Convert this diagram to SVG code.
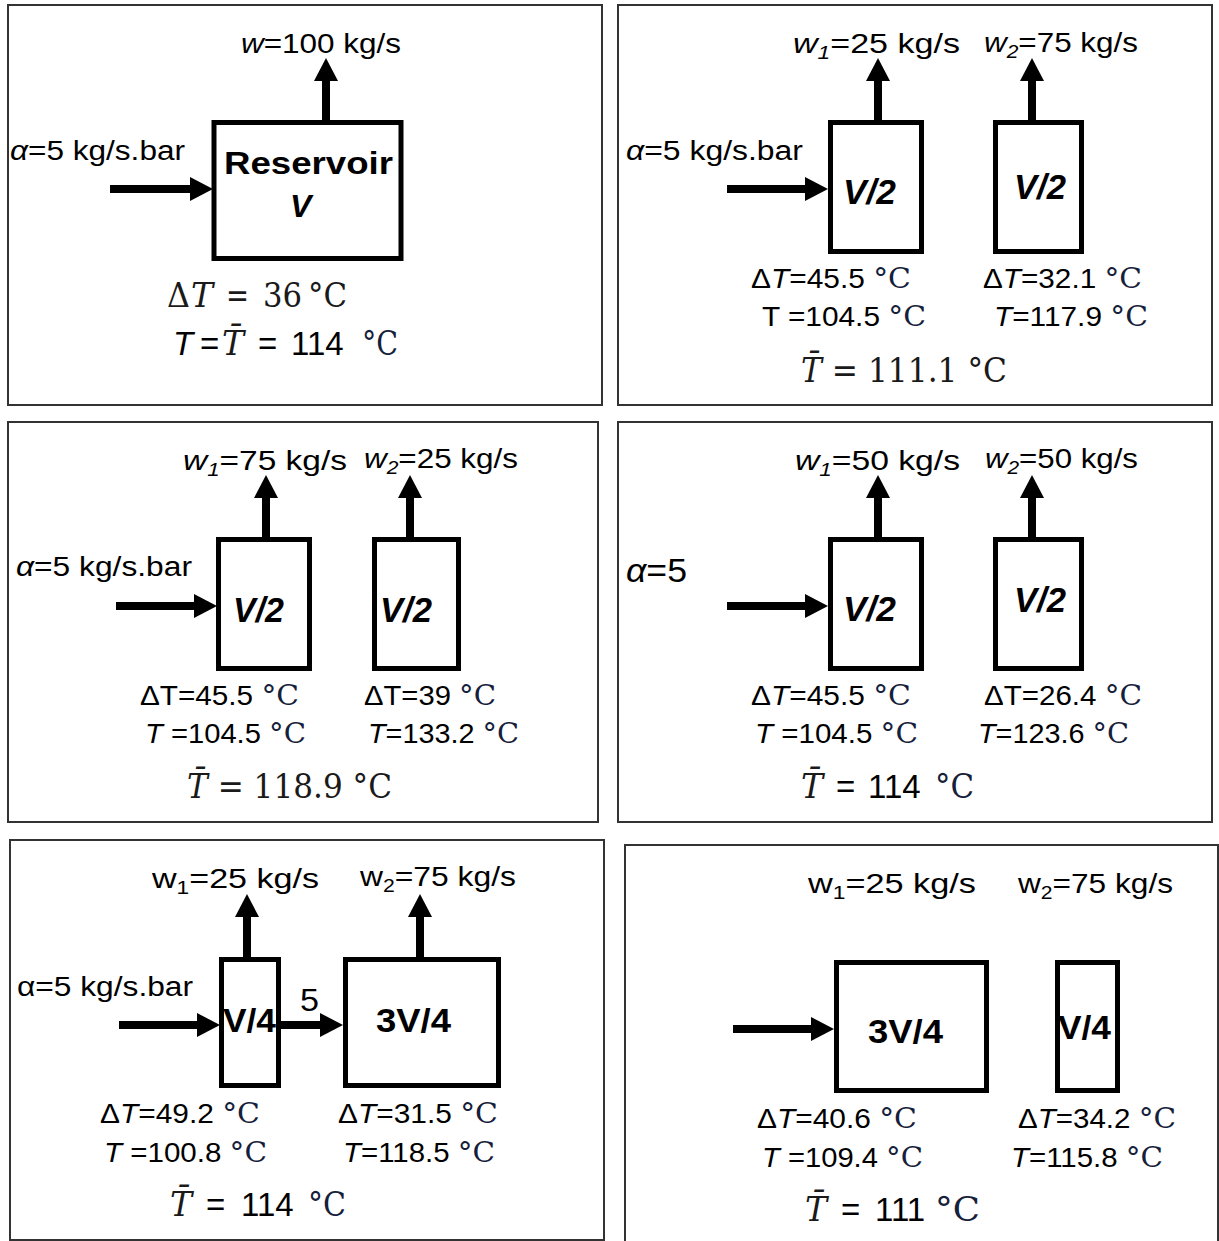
<svg xmlns="http://www.w3.org/2000/svg" width="1219" height="1241" viewBox="0 0 1219 1241">
<style>
.f{fill:none;stroke:#333;stroke-width:2}
.b{fill:#fff;stroke:#000;stroke-width:5}
.a{stroke:#000;stroke-width:8;fill:none;marker-end:url(#ah)}
.s{font-family:"Liberation Sans",Arial,sans-serif;font-size:27px;fill:#000}
.i{font-style:italic}
.sub{font-size:18px}
.v{font-family:"Liberation Sans",Arial,sans-serif;font-weight:bold;font-style:italic;font-size:35px;fill:#000}
.vb{font-family:"Liberation Sans",Arial,sans-serif;font-weight:bold;font-size:34px;fill:#000}
.c{font-family:"DejaVu Serif","Liberation Serif",serif;fill:#15203a}
.m{font-family:"DejaVu Serif","Liberation Serif",serif;font-size:33px;fill:#1a1a1a}
.big{font-size:33px}
</style>
<defs>
<marker id="ah" markerUnits="userSpaceOnUse" markerWidth="23" markerHeight="24" refX="0" refY="12" orient="auto" viewBox="0 0 23 24"><path d="M0,0 L23,12 L0,24 z" fill="#000"/></marker>
</defs>

<g id="frames">
<rect class="f" x="8" y="5" width="594" height="400"/>
<rect class="f" x="618" y="5" width="594" height="400"/>
<rect class="f" x="8" y="422" width="590" height="400"/>
<rect class="f" x="618" y="422" width="594" height="400"/>
<rect class="f" x="10" y="840" width="594" height="400"/>
<rect class="f" x="625" y="845" width="593" height="410"/>
</g>

<g id="connectors">
<line class="a" x1="326" y1="122" x2="326" y2="81"/>
<line class="a" x1="110" y1="189" x2="190" y2="189"/>
<line class="a" x1="878" y1="122" x2="878" y2="81"/>
<line class="a" x1="1032" y1="122" x2="1032" y2="81"/>
<line class="a" x1="727" y1="189" x2="805" y2="189"/>
<line class="a" x1="266" y1="539" x2="266" y2="498"/>
<line class="a" x1="410" y1="539" x2="410" y2="498"/>
<line class="a" x1="116" y1="606" x2="194" y2="606"/>
<line class="a" x1="878" y1="539" x2="878" y2="498"/>
<line class="a" x1="1032" y1="539" x2="1032" y2="498"/>
<line class="a" x1="727" y1="606" x2="805" y2="606"/>
<line class="a" x1="247" y1="959" x2="247" y2="917"/>
<line class="a" x1="420" y1="959" x2="420" y2="917"/>
<line class="a" x1="119" y1="1025" x2="197" y2="1025"/>
<line class="a" x1="281" y1="1025" x2="320" y2="1025"/>
<line class="a" x1="733" y1="1029" x2="811" y2="1029"/>
</g>

<g id="panel1">
<text class="s" x="241" y="53" textLength="160" lengthAdjust="spacingAndGlyphs"><tspan class="i">w</tspan>=100 kg/s</text>
<text class="s" x="10" y="160" textLength="175" lengthAdjust="spacingAndGlyphs"><tspan class="i">α</tspan>=5 kg/s.bar</text>
<g id="reservoir">
<rect class="b" x="214" y="122.5" width="187" height="136"/>
<text class="vb" x="224" y="174" style="font-size:31px" textLength="169" lengthAdjust="spacingAndGlyphs">Reservoir</text>
<text class="v" x="290" y="217" style="font-size:32px">V</text>
</g>
<text class="m" y="307" style="font-size:33px"><tspan x="167" textLength="23" lengthAdjust="spacingAndGlyphs">Δ</tspan><tspan x="191" font-style="italic">T</tspan><tspan x="226" textLength="23" lengthAdjust="spacingAndGlyphs">=</tspan><tspan x="263" textLength="39" lengthAdjust="spacingAndGlyphs">36</tspan><tspan x="308" textLength="39" lengthAdjust="spacingAndGlyphs">°C</tspan></text>
<text class="s big" y="355"><tspan x="173" class="i">T</tspan><tspan x="200">=</tspan><tspan x="222" class="m i">T&#x304;</tspan><tspan x="258">=</tspan><tspan x="291">114</tspan><tspan x="362" class="c" textLength="36" lengthAdjust="spacingAndGlyphs">°C</tspan></text>
</g>

<g id="panel2">
<text class="s" x="793" y="53" textLength="167" lengthAdjust="spacingAndGlyphs"><tspan class="i">w</tspan><tspan class="i sub" dy="6">1</tspan><tspan dy="-6">=25 kg/s</tspan></text>
<text class="s" x="984" y="52" textLength="154" lengthAdjust="spacingAndGlyphs"><tspan class="i">w</tspan><tspan class="i sub" dy="6">2</tspan><tspan dy="-6">=75 kg/s</tspan></text>
<text class="s" x="626" y="160" textLength="177" lengthAdjust="spacingAndGlyphs"><tspan class="i">α</tspan>=5 kg/s.bar</text>
<g id="p2-tank1">
<rect class="b" x="830.5" y="122.5" width="91" height="129"/>
<text class="v" x="843" y="204" textLength="53" lengthAdjust="spacingAndGlyphs">V/2</text>
</g>
<g id="p2-tank2">
<rect class="b" x="995.5" y="122.5" width="86" height="129"/>
<text class="v" x="1014" y="199" textLength="52" lengthAdjust="spacingAndGlyphs">V/2</text>
</g>
<text class="s" x="751" y="288" textLength="160" lengthAdjust="spacingAndGlyphs">Δ<tspan class="i">T</tspan>=45.5 <tspan class="c">°C</tspan></text>
<text class="s" x="762" y="326" textLength="164" lengthAdjust="spacingAndGlyphs">T =104.5 <tspan class="c">°C</tspan></text>
<text class="s" x="983" y="288" textLength="159" lengthAdjust="spacingAndGlyphs">Δ<tspan class="i">T</tspan>=32.1 <tspan class="c">°C</tspan></text>
<text class="s" x="994" y="326" textLength="154" lengthAdjust="spacingAndGlyphs"><tspan class="i">T</tspan>=117.9 <tspan class="c">°C</tspan></text>
<text class="m" x="801" y="382" textLength="206" lengthAdjust="spacingAndGlyphs"><tspan font-style="italic">T&#x304;</tspan> = 111.1 °C</text>
</g>

<g id="panel3">
<text class="s" x="183" y="470" textLength="164" lengthAdjust="spacingAndGlyphs"><tspan class="i">w</tspan><tspan class="i sub" dy="6">1</tspan><tspan dy="-6">=75 kg/s</tspan></text>
<text class="s" x="364" y="468" textLength="154" lengthAdjust="spacingAndGlyphs"><tspan class="i">w</tspan><tspan class="i sub" dy="6">2</tspan><tspan dy="-6">=25 kg/s</tspan></text>
<text class="s" x="16" y="576" textLength="176" lengthAdjust="spacingAndGlyphs"><tspan class="i">α</tspan>=5 kg/s.bar</text>
<g id="p3-tank1">
<rect class="b" x="218.5" y="539.5" width="91" height="129"/>
<text class="v" x="233" y="622" textLength="51" lengthAdjust="spacingAndGlyphs">V/2</text>
</g>
<g id="p3-tank2">
<rect class="b" x="374.5" y="539.5" width="84" height="129"/>
<text class="v" x="380" y="622" textLength="52" lengthAdjust="spacingAndGlyphs">V/2</text>
</g>
<text class="s" x="140" y="705" textLength="159" lengthAdjust="spacingAndGlyphs">ΔT=45.5 <tspan class="c">°C</tspan></text>
<text class="s" x="145" y="743" textLength="161" lengthAdjust="spacingAndGlyphs"><tspan class="i">T</tspan> =104.5 <tspan class="c">°C</tspan></text>
<text class="s" x="364" y="705" textLength="132" lengthAdjust="spacingAndGlyphs">ΔT=39 <tspan class="c">°C</tspan></text>
<text class="s" x="368" y="743" textLength="151" lengthAdjust="spacingAndGlyphs"><tspan class="i">T</tspan>=133.2 <tspan class="c">°C</tspan></text>
<text class="m" x="187" y="798" textLength="205" lengthAdjust="spacingAndGlyphs"><tspan font-style="italic">T&#x304;</tspan> = 118.9 °C</text>
</g>

<g id="panel4">
<text class="s" x="795" y="470" textLength="165" lengthAdjust="spacingAndGlyphs"><tspan class="i">w</tspan><tspan class="i sub" dy="6">1</tspan><tspan dy="-6">=50 kg/s</tspan></text>
<text class="s" x="985" y="468" textLength="153" lengthAdjust="spacingAndGlyphs"><tspan class="i">w</tspan><tspan class="i sub" dy="6">2</tspan><tspan dy="-6">=50 kg/s</tspan></text>
<text class="s" x="626" y="582" style="font-size:33px" textLength="61" lengthAdjust="spacingAndGlyphs"><tspan class="i">α</tspan>=5</text>
<g id="p4-tank1">
<rect class="b" x="830.5" y="539.5" width="91" height="129"/>
<text class="v" x="843" y="621" textLength="53" lengthAdjust="spacingAndGlyphs">V/2</text>
</g>
<g id="p4-tank2">
<rect class="b" x="995.5" y="539.5" width="86" height="129"/>
<text class="v" x="1014" y="612" textLength="52" lengthAdjust="spacingAndGlyphs">V/2</text>
</g>
<text class="s" x="751" y="705" textLength="160" lengthAdjust="spacingAndGlyphs">Δ<tspan class="i">T</tspan>=45.5 <tspan class="c">°C</tspan></text>
<text class="s" x="755" y="743" textLength="163" lengthAdjust="spacingAndGlyphs"><tspan class="i">T</tspan> =104.5 <tspan class="c">°C</tspan></text>
<text class="s" x="984" y="705" textLength="158" lengthAdjust="spacingAndGlyphs">ΔT=26.4 <tspan class="c">°C</tspan></text>
<text class="s" x="978" y="743" textLength="151" lengthAdjust="spacingAndGlyphs"><tspan class="i">T</tspan>=123.6 <tspan class="c">°C</tspan></text>
<text class="s big" y="798"><tspan x="801" class="m i">T&#x304;</tspan><tspan x="836">=</tspan><tspan x="868">114</tspan><tspan x="935" class="c" textLength="39" lengthAdjust="spacingAndGlyphs">°C</tspan></text>
</g>

<g id="panel5">
<text class="s" x="152" y="888" textLength="167" lengthAdjust="spacingAndGlyphs">w<tspan class="sub" dy="6">1</tspan><tspan dy="-6">=25 kg/s</tspan></text>
<text class="s" x="360" y="886" textLength="156" lengthAdjust="spacingAndGlyphs">w<tspan class="sub" dy="6">2</tspan><tspan dy="-6">=75 kg/s</tspan></text>
<text class="s" x="17" y="996" textLength="176" lengthAdjust="spacingAndGlyphs">α=5 kg/s.bar</text>
<text class="s" x="300" y="1011" style="font-size:31px" textLength="19" lengthAdjust="spacingAndGlyphs">5</text>
<g id="p5-tank1">
<rect class="b" x="221.5" y="959.5" width="57" height="126"/>
<text class="vb" x="223" y="1032" textLength="53" lengthAdjust="spacingAndGlyphs">V/4</text>
</g>
<g id="p5-tank2">
<rect class="b" x="345.5" y="959.5" width="153" height="126"/>
<text class="vb" x="376" y="1032" textLength="75" lengthAdjust="spacingAndGlyphs">3V/4</text>
</g>
<text class="s" x="100" y="1123" textLength="160" lengthAdjust="spacingAndGlyphs">Δ<tspan class="i">T</tspan>=49.2 <tspan class="c">°C</tspan></text>
<text class="s" x="104" y="1162" textLength="163" lengthAdjust="spacingAndGlyphs"><tspan class="i">T</tspan> =100.8 <tspan class="c">°C</tspan></text>
<text class="s" x="338" y="1123" textLength="160" lengthAdjust="spacingAndGlyphs">Δ<tspan class="i">T</tspan>=31.5 <tspan class="c">°C</tspan></text>
<text class="s" x="343" y="1162" textLength="152" lengthAdjust="spacingAndGlyphs"><tspan class="i">T</tspan>=118.5 <tspan class="c">°C</tspan></text>
<text class="s big" y="1216"><tspan x="170" class="m i">T&#x304;</tspan><tspan x="206">=</tspan><tspan x="241">114</tspan><tspan x="308" class="c" textLength="38" lengthAdjust="spacingAndGlyphs">°C</tspan></text>
</g>

<g id="panel6">
<text class="s" x="808" y="893" textLength="168" lengthAdjust="spacingAndGlyphs">w<tspan class="sub" dy="6">1</tspan><tspan dy="-6">=25 kg/s</tspan></text>
<text class="s" x="1018" y="893" textLength="155" lengthAdjust="spacingAndGlyphs">w<tspan class="sub" dy="6">2</tspan><tspan dy="-6">=75 kg/s</tspan></text>
<g id="p6-tank1">
<rect class="b" x="836.5" y="962.5" width="150" height="128"/>
<text class="vb" x="868" y="1043" textLength="75" lengthAdjust="spacingAndGlyphs">3V/4</text>
</g>
<g id="p6-tank2">
<rect class="b" x="1057.5" y="962.5" width="60" height="128"/>
<text class="vb" x="1058" y="1039" textLength="53" lengthAdjust="spacingAndGlyphs">V/4</text>
</g>
<text class="s" x="757" y="1128" textLength="160" lengthAdjust="spacingAndGlyphs">Δ<tspan class="i">T</tspan>=40.6 <tspan class="c">°C</tspan></text>
<text class="s" x="762" y="1167" textLength="161" lengthAdjust="spacingAndGlyphs"><tspan class="i">T</tspan> =109.4 <tspan class="c">°C</tspan></text>
<text class="s" x="1018" y="1128" textLength="158" lengthAdjust="spacingAndGlyphs">Δ<tspan class="i">T</tspan>=34.2 <tspan class="c">°C</tspan></text>
<text class="s" x="1011" y="1167" textLength="152" lengthAdjust="spacingAndGlyphs"><tspan class="i">T</tspan>=115.8 <tspan class="c">°C</tspan></text>
<text class="s big" y="1221"><tspan x="805" class="m i">T&#x304;</tspan><tspan x="841">=</tspan><tspan x="875">111</tspan><tspan x="935" class="c" textLength="45" lengthAdjust="spacingAndGlyphs">°C</tspan></text>
</g>
</svg>
